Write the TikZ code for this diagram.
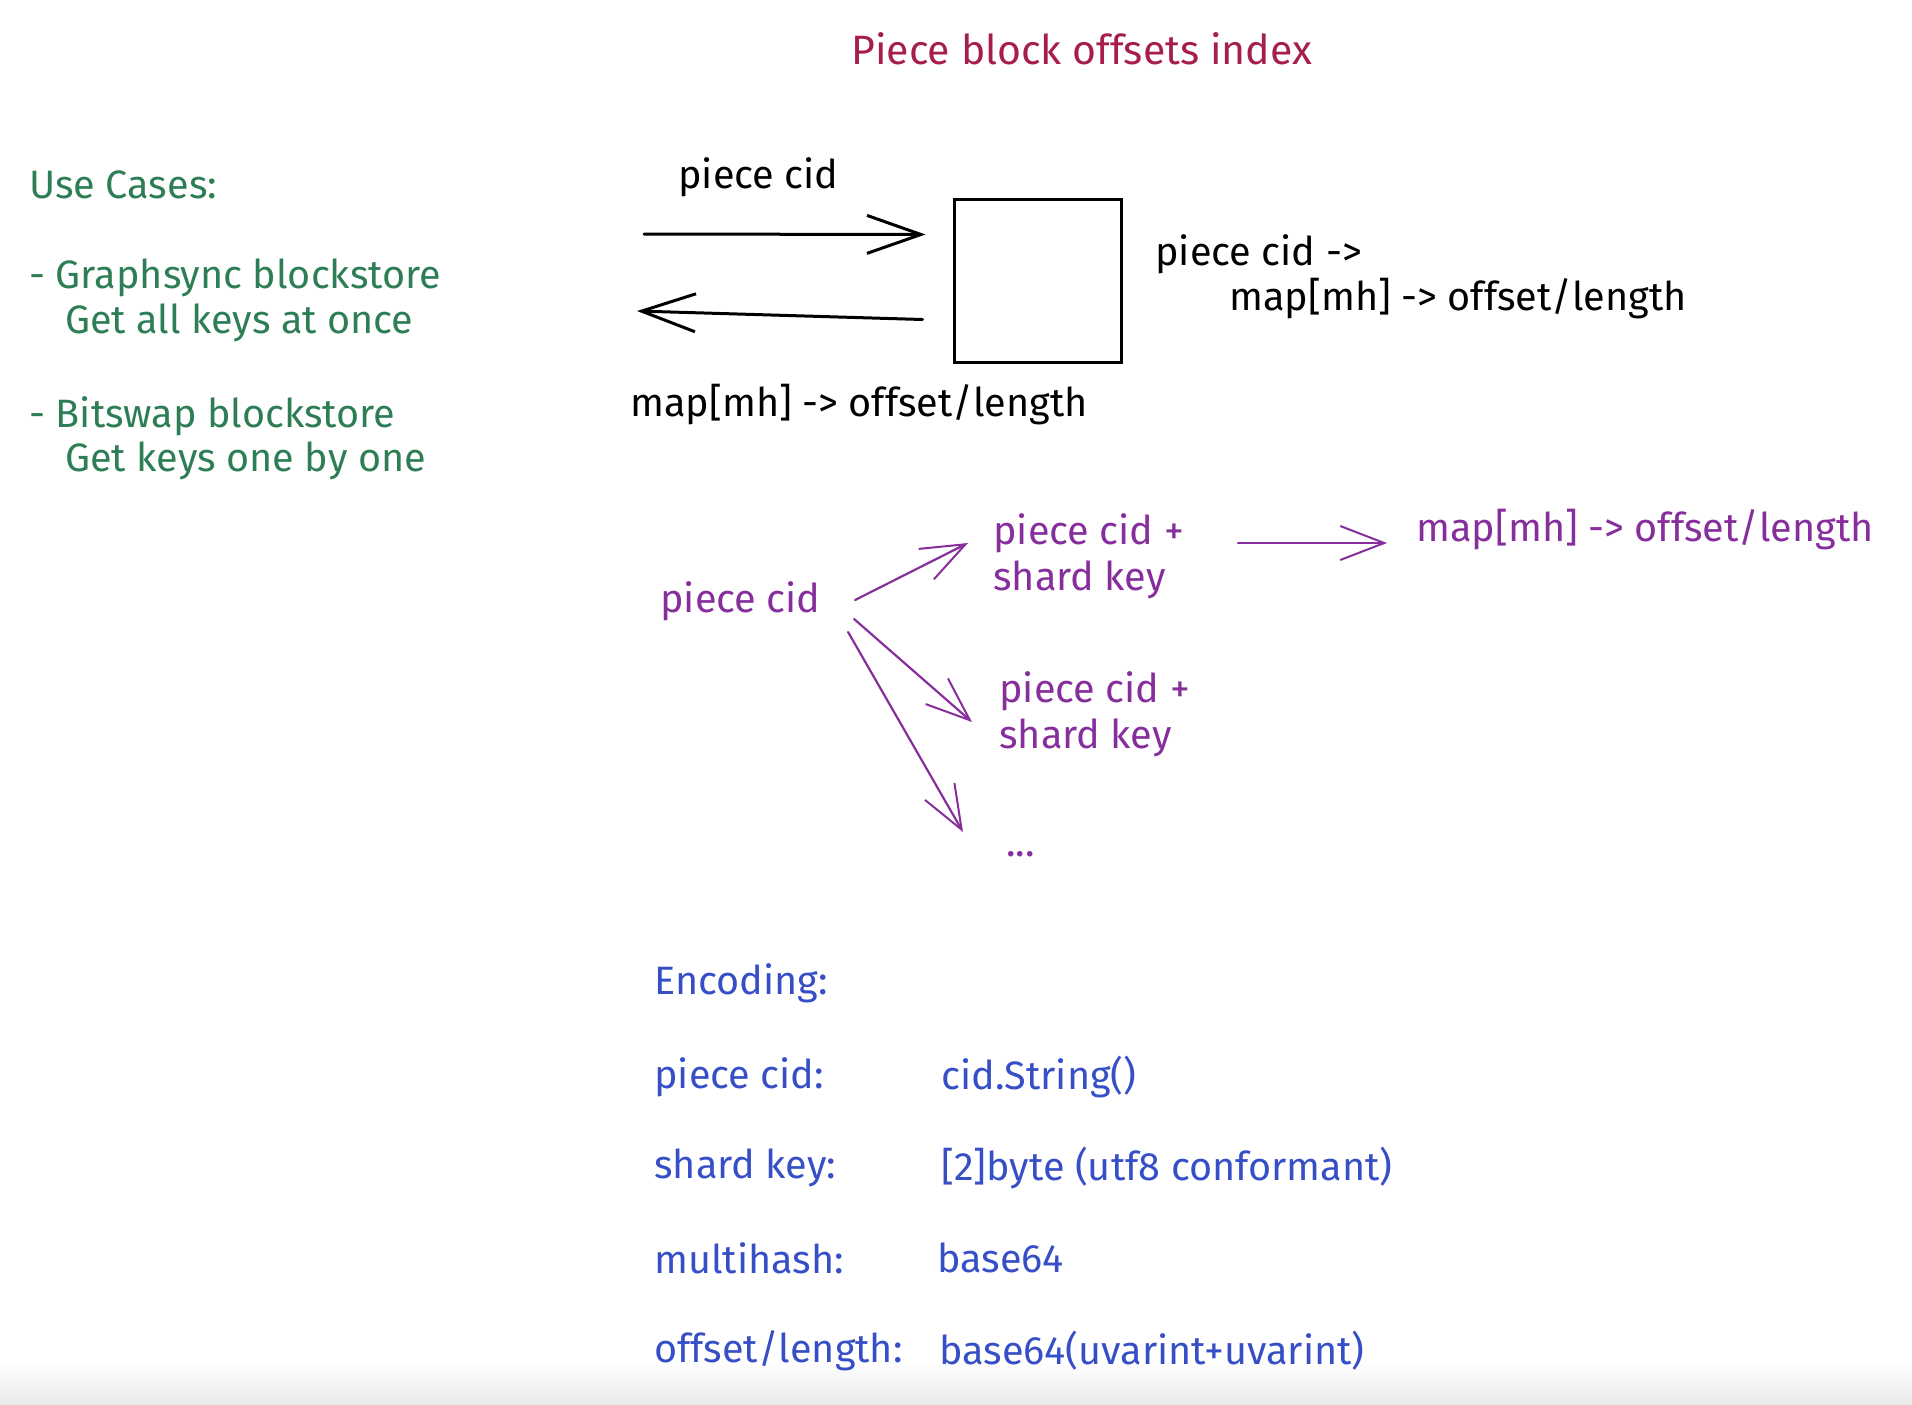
\documentclass[tikz,border=0pt]{standalone}
\usepackage{fontspec}
\setmainfont{Fira Sans}
\usetikzlibrary{arrows.meta,calc}

\definecolor{titlered}{HTML}{A61E4D}
\definecolor{usegreen}{HTML}{2D7D55}
\definecolor{flowpurple}{HTML}{862E9C}
\definecolor{encblue}{HTML}{364FC7}

\newcommand{\handfont}{\fontsize{19.8}{23}\selectfont}

\begin{document}
\begin{tikzpicture}[x=0.5pt, y=-0.5pt]
  \useasboundingbox (0,0) rectangle (1912,1404);
  \shade [top color=white, bottom color=black!8] (0,1360) rectangle (1912,1404);  % grauer Rand unten

  \tikzstyle{txt}=[anchor=west, inner sep=0pt, font=\handfont, align=left]
  \tikzstyle{green}=[txt, text=usegreen]
  \tikzstyle{purple}=[txt, text=flowpurple]
  \tikzstyle{blue}=[txt, text=encblue]
  \tikzstyle{barb}=[-{Straight Barb[length=27pt, width=19pt, line width=1.5pt]}, line width=1.5pt, line cap=round]
  \tikzstyle{pbarb}=[-{Straight Barb[length=22pt, width=17pt, line width=1pt]}, draw=flowpurple, line width=1.1pt, line cap=round]

  % Titel
  \node[txt, text=titlered, font=\fontsize{20.5}{24}\selectfont] (title) at (851, 49) {Piece block offsets index};

  % Use Cases
  \node[green] (uc)  at (29, 185) {Use Cases:};
  \node[green] (uc1) at (29, 278) {- Graphsync blockstore};
  \node[green] (uc1b) at (65, 323) {Get all keys at once};
  \node[green] (uc2) at (29, 416) {- Bitswap blockstore};
  \node[green] (uc2b) at (65, 461) {Get keys one by one};

  % Index als Box
  \node[draw, line width=1.5pt, minimum width=83.5pt, minimum height=81.5pt] (index) at (1037.5, 280.5) {};
  \node[txt] (in)  at (678, 177) {piece cid};
  \node[txt] (out) at (630, 405) {map[mh] -> offset/length};
  \node[txt] (def) at (1155, 254) {piece cid ->};
  \node[txt] (defb) at (1229, 299) {map[mh] -> offset/length};
  \coordinate (inA)  at (644, 234);
  \coordinate (outA) at (637, 311);

  \draw[barb] (inA) -- ($(index.west)+(-27,-46)$);
  \draw[barb] ($(index.west)+(-30,39)$) -- (outA);

  % Shards
  \node[purple] (pc)  at (660, 601) {piece cid};
  \node[purple, anchor=north west] (sk1) at (993, 513) {piece cid +\\shard key};
  \node[purple, anchor=north west] (sk2) at (999, 671) {piece cid +\\shard key};
  \node[purple] (more) at (1006, 854) {...};
  \node[purple] (map) at (1416, 530) {map[mh] -> offset/length};

  \draw[pbarb] ($(pc.east)+(34,-1)$) -- ($(sk1.north west)+(-25,30)$);
  \draw[pbarb] ($(pc.east)+(33,18)$) -- ($(sk2.north west)+(-27,51)$);
  \draw[pbarb] ($(pc.east)+(27,31)$) -- ($(more.west)+(-43,-22)$);
  \draw[pbarb] ($(sk1.north west)+(245,30)$) -- ($(map.west)+(-29,13)$);

  % Encoding
  \node[blue] (enc) at (654, 983) {Encoding:};
  \node[blue] (e1k) at (654, 1077) {piece cid:};
  \node[blue] (e1v) at (941, 1077) {cid.String()};
  \node[blue] (e2k) at (654, 1168) {shard key:};
  \node[blue] (e2v) at (941, 1168) {[2]byte (utf8 conformant)};
  \node[blue] (e3k) at (654, 1258) {multihash:};
  \node[blue] (e3v) at (937, 1258) {base64};
  \node[blue] (e4k) at (654, 1351) {offset/length:};
  \node[blue] (e4v) at (939, 1351) {base64(uvarint+uvarint)};
\end{tikzpicture}
\end{document}
